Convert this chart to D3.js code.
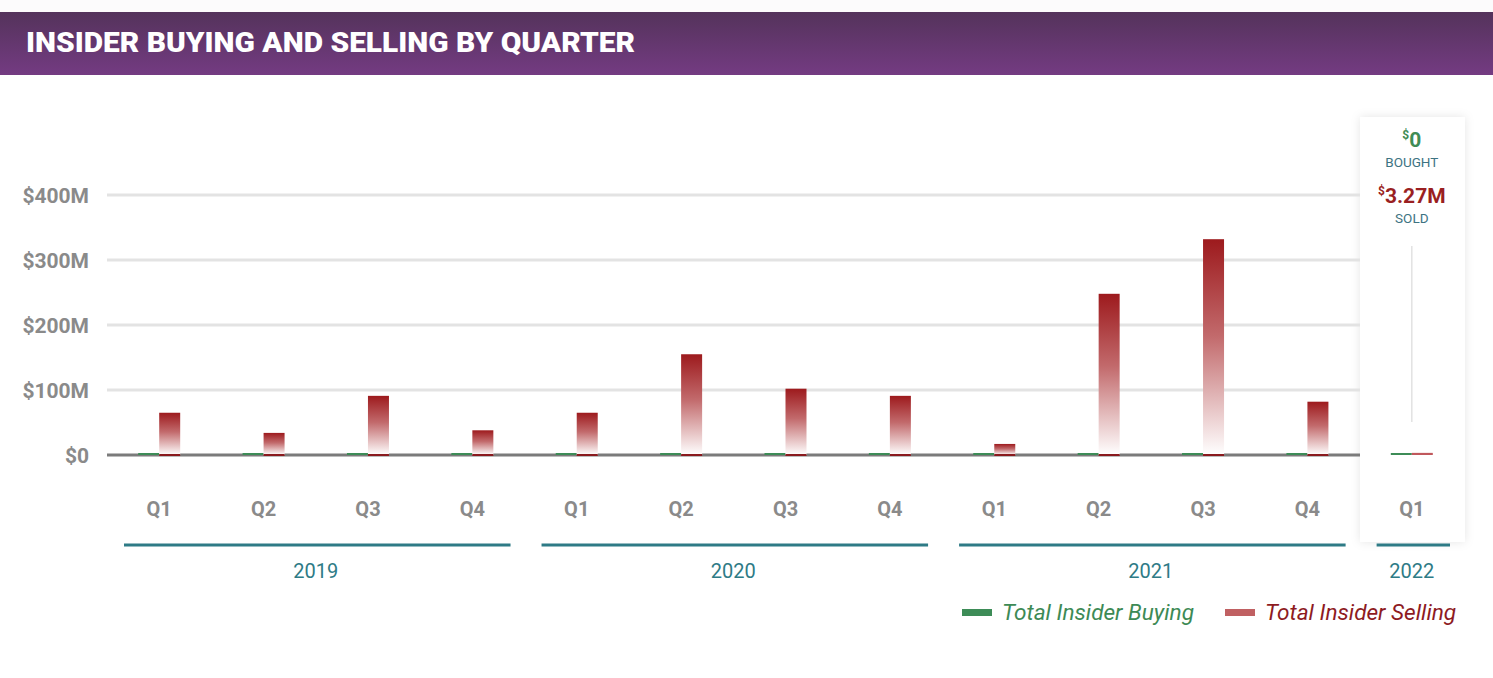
<!DOCTYPE html>
<html><head><meta charset="utf-8">
<script src="https://cdn.jsdelivr.net/npm/d3@7"></script>
<style>
html,body{margin:0;padding:0;background:#fff;}
svg{display:block;font-family:Roboto, "Noto Sans", sans-serif;}
</style></head>
<body>
<svg id="chart" width="1493" height="678"></svg>
<script>
// ---- data ----
const quarters = ["Q1","Q2","Q3","Q4","Q1","Q2","Q3","Q4","Q1","Q2","Q3","Q4","Q1"];
const years    = ["2019","2019","2019","2019","2020","2020","2020","2020","2021","2021","2021","2021","2022"];
const buying   = [0,0,0,0,0,0,0,0,0,0,0,0,0];            // $M
const selling  = [65,34,91,38,65,155,102,91,17,248,332,82,3.27]; // $M
const yTicks   = [0,100,200,300,400];
const yearList = ["2019","2020","2021","2022"];
const title = "INSIDER BUYING AND SELLING BY QUARTER";
const lastBought = "0", lastSold = "3.27M";

const svg = d3.select("#chart");
const defs = svg.append("defs");

// header gradient
const hg = defs.append("linearGradient").attr("id","hdr").attr("x1",0).attr("y1",0).attr("x2",0).attr("y2",1);
hg.append("stop").attr("offset","0%").attr("stop-color","#54335b");
hg.append("stop").attr("offset","100%").attr("stop-color","#743b82");
// bar gradient
const bg = defs.append("linearGradient").attr("id","sellGrad").attr("x1",0).attr("y1",0).attr("x2",0).attr("y2",1);
bg.append("stop").attr("offset","0%").attr("stop-color","#9d1a1d");
bg.append("stop").attr("offset","45%").attr("stop-color","#c26a6c");
bg.append("stop").attr("offset","100%").attr("stop-color","#ffffff");
// shadow
const f = defs.append("filter").attr("id","shadow").attr("x","-30%").attr("y","-10%").attr("width","160%").attr("height","120%");
f.append("feDropShadow").attr("dx",0).attr("dy",0).attr("stdDeviation",5).attr("flood-color","#000").attr("flood-opacity",0.10);

svg.append("rect").attr("x",0).attr("y",0).attr("width",1493).attr("height",12).attr("fill","#fcfbfc");
svg.append("rect").attr("x",0).attr("y",12).attr("width",1493).attr("height",63).attr("fill","url(#hdr)");
svg.append("text").attr("x",26).attr("y",52).attr("fill","#fff").attr("font-weight",900)
  .attr("font-size",28).attr("textLength",609).attr("lengthAdjust","spacingAndGlyphs").text(title);

// scales
const keys = quarters.map((q,i)=>i);
const x = d3.scaleBand().domain(keys).range([107,1464]);
const y = d3.scaleLinear().domain([0,400]).range([455,195]);
const bw = 21;
const plotRight = 1360;

// last quarter panel
const lastI = keys.length-1;
const pcx = x(lastI)+x.bandwidth()/2;
svg.append("rect").attr("x",1360).attr("y",117).attr("width",105).attr("height",425)
  .attr("fill","#fff").attr("filter","url(#shadow)");

// grid
svg.append("g").selectAll("line").data(yTicks.filter(d=>d>0)).join("line")
  .attr("x1",107).attr("x2",plotRight).attr("y1",d=>y(d)).attr("y2",d=>y(d))
  .attr("stroke","#e3e3e3").attr("stroke-width",3);

// y axis labels
const yAxis = d3.axisLeft(y).tickValues(yTicks).tickSize(0).tickPadding(0)
  .tickFormat(d=> d===0 ? "$0" : "$"+d+"M");
const yg = svg.append("g").attr("transform","translate(89,0)").call(yAxis);
yg.select(".domain").remove();
yg.selectAll("text").attr("font-size",21).attr("font-weight",700).attr("fill","#8a8a8a")
  .attr("font-family","Roboto, sans-serif").attr("dy","0.35em");

// zero line
svg.append("line").attr("x1",107).attr("x2",plotRight).attr("y1",y(0)).attr("y2",y(0))
  .attr("stroke","#7b7b7b").attr("stroke-width",3);

// panel vertical line
svg.append("line").attr("x1",pcx).attr("x2",pcx).attr("y1",246).attr("y2",422)
  .attr("stroke","#e2e2e2").attr("stroke-width",1.5);

// bars
const minH = 2;
svg.append("g").selectAll("rect").data(buying).join("rect")
  .attr("x",(d,i)=>x(i)+x.bandwidth()/2-bw).attr("width",bw)
  .attr("y",d=>Math.min(y(d),y(0)-minH)).attr("height",d=>Math.max(y(0)-y(d),minH))
  .attr("fill","#3d8c57");
svg.append("g").selectAll("rect").data(selling).join("rect")
  .attr("x",(d,i)=>x(i)+x.bandwidth()/2).attr("width",bw)
  .attr("y",d=>Math.min(y(d),y(0)-minH)).attr("height",d=>Math.max(y(0)-y(d),minH))
  .attr("fill",(d,i)=> i===lastI ? "#c0585c" : "url(#sellGrad)");
// dark base line under red bars
svg.append("g").selectAll("rect").data(selling.slice(0,lastI)).join("rect")
  .attr("x",(d,i)=>x(i)+x.bandwidth()/2).attr("width",bw)
  .attr("y",y(0)-1).attr("height",2).attr("fill","#8a1a1e");

// quarter labels
const xAxis = d3.axisBottom(x).tickSize(0).tickPadding(0).tickFormat(i=>quarters[i]);
const xg = svg.append("g").attr("transform","translate(0,509)").call(xAxis);
xg.select(".domain").remove();
xg.selectAll("text").attr("font-size",20).attr("font-weight",700).attr("fill","#8a8a8a")
  .attr("font-family","Roboto, sans-serif").attr("dy","0.35em");

// year brackets
const yearData = yearList.map(yr=>{
  const idx = keys.filter(i=>years[i]===yr);
  return {yr, a:x(idx[0]), b:x(idx[idx.length-1])+x.bandwidth()};
});
svg.append("g").selectAll("line").data(yearData).join("line")
  .attr("x1",d=>d.a+17).attr("x2",d=>d.b-14).attr("y1",545).attr("y2",545)
  .attr("stroke","#2e7b86").attr("stroke-width",3);
svg.append("g").selectAll("text").data(yearData).join("text")
  .attr("x",d=>(d.a+16+d.b-14)/2 - 1).attr("y",578).attr("text-anchor","middle")
  .attr("font-size",20).attr("fill","#2e7b86").text(d=>d.yr);

// panel texts
const t1 = svg.append("text").attr("x",pcx).attr("y",147).attr("text-anchor","middle")
  .attr("fill","#3f8c55").attr("font-weight",700);
t1.append("tspan").attr("font-size",12).attr("dy",-8).text("$");
t1.append("tspan").attr("font-size",21).attr("dy",8).text(lastBought);
svg.append("text").attr("x",pcx).attr("y",167).attr("text-anchor","middle")
  .attr("fill","#3d7382").attr("font-size",13.5).text("BOUGHT");
const t2 = svg.append("text").attr("x",pcx).attr("y",203).attr("text-anchor","middle")
  .attr("fill","#9a1f22").attr("font-weight",700);
t2.append("tspan").attr("font-size",12).attr("dy",-8).text("$");
t2.append("tspan").attr("font-size",21).attr("dy",8).text(lastSold);
svg.append("text").attr("x",pcx).attr("y",223).attr("text-anchor","middle")
  .attr("fill","#3d7382").attr("font-size",13.5).text("SOLD");

// legend
const legend = [
  {label:"Total Insider Buying", sw:"#3d8c57", tc:"#3d8a55", x:962},
  {label:"Total Insider Selling", sw:"#c06062", tc:"#8e1b1f", x:1225}
];
const lg = svg.append("g").selectAll("g").data(legend).join("g")
  .attr("transform",d=>`translate(${d.x},612)`);
lg.append("rect").attr("x",0).attr("y",-3).attr("width",30).attr("height",7).attr("fill",d=>d.sw);
lg.append("text").attr("x",40).attr("y",8).attr("font-size",22.6).attr("font-style","italic")
  .attr("fill",d=>d.tc).text(d=>d.label);
</script>
</body></html>
